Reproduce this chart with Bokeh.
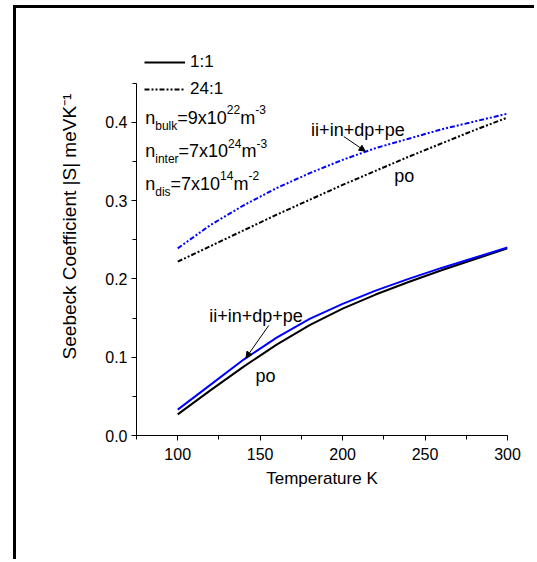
from bokeh.plotting import figure
from bokeh.models import (Label, Arrow, NormalHead, Legend, LegendItem,
                          SingleIntervalTicker, Range1d, PrintfTickFormatter)
from bokeh.embed import file_html
from bokeh.resources import INLINE

# ---- data ----
temperature = [100, 120, 140, 160, 180, 200, 220, 240, 260, 280, 300]
s_1to1_po = [0.027, 0.058, 0.088, 0.116, 0.141, 0.162, 0.180, 0.196, 0.211, 0.225, 0.239]
s_1to1_all = [0.033, 0.065, 0.097, 0.125, 0.149, 0.168, 0.185, 0.200, 0.214, 0.227, 0.240]
s_24to1_po = [0.222, 0.242, 0.262, 0.282, 0.301, 0.320, 0.338, 0.356, 0.373, 0.390, 0.406]
s_24to1_all = [0.239, 0.269, 0.294, 0.316, 0.335, 0.352, 0.367, 0.379, 0.391, 0.401, 0.411]

legend_labels = ["1:1", "24:1"]
FONT = "Liberation Sans"

# y range extends above the drawn axis so that the notes stay inside the frame;
# the axis itself is bounded to 0 .. 0.45
p = figure(width=521, height=554, x_range=Range1d(75, 300), y_range=Range1d(0, 0.5338),
           output_backend="svg", toolbar_location=None,
           min_border_left=120, min_border_right=30, min_border_top=9, min_border_bottom=127)
p.styles = {"margin-left": "13px", "margin-top": "5px",
            "border-left": "3px solid black", "border-top": "3px solid black"}

p.xgrid.visible = False
p.ygrid.visible = False
p.outline_line_color = None
p.background_fill_color = "white"
p.border_fill_color = "white"

p.xaxis.ticker = SingleIntervalTicker(interval=50, num_minor_ticks=2)
p.yaxis.ticker = SingleIntervalTicker(interval=0.1, num_minor_ticks=2)
p.yaxis.formatter = PrintfTickFormatter(format="%.1f")
p.yaxis.bounds = (0, 0.45)
for ax in (p.xaxis, p.yaxis):
    ax.axis_line_color = "black"
    ax.axis_line_width = 1
    ax.major_tick_in = 0
    ax.major_tick_out = 5
    ax.minor_tick_in = 0
    ax.minor_tick_out = 4
    ax.major_tick_line_color = "black"
    ax.minor_tick_line_color = "black"
    ax.major_label_text_font = FONT
    ax.major_label_text_font_size = "16px"
    ax.major_label_text_color = "black"
    ax.axis_label_text_font = FONT
    ax.axis_label_text_font_style = "normal"
    ax.axis_label_text_color = "black"
p.xaxis.major_label_standoff = 7
p.yaxis.major_label_standoff = 4
p.xaxis.axis_label = "Temperature K"
p.xaxis.axis_label_text_font_size = "17px"
p.xaxis.axis_label_standoff = 6
p.yaxis.axis_label = "Seebeck Coefficient |S| meVK\u207b\u00b9"
p.yaxis.axis_label_text_font_size = "19px"
p.yaxis.axis_label_standoff = 22

dash = "5 2 2 2 2 2"
r_po_11 = p.line(temperature, s_1to1_po, color="black", line_width=2)
r_all_11 = p.line(temperature, s_1to1_all, color="#0000ff", line_width=2)
r_po_24 = p.line(temperature, s_24to1_po, color="black", line_width=2, line_dash=dash)
r_all_24 = p.line(temperature, s_24to1_all, color="#0000ff", line_width=2, line_dash=dash)

legend = Legend(items=[LegendItem(label=legend_labels[0], renderers=[r_po_11]),
                       LegendItem(label=legend_labels[1], renderers=[r_po_24])],
                location=(8, 336), glyph_width=41, glyph_height=20, label_height=20,
                label_standoff=5, spacing=7, padding=0, margin=0,
                border_line_alpha=0, background_fill_alpha=0,
                label_text_font=FONT, label_text_font_size="17px", label_text_color="black")
p.add_layout(legend)

# concentration notes with sub/superscripts
W = {'n': 556, 'b': 556, 'u': 556, 'l': 222, 'k': 500, 'i': 222, 't': 278, 'e': 556,
     'r': 333, 'd': 556, 's': 500, '=': 584, '9': 556, '7': 556, 'x': 500, '1': 556,
     '0': 556, '2': 556, '4': 556, 'm': 833, '-': 333, '3': 556}

def rich(x, y, parts):
    off = 0.0
    for txt, size, dy in parts:
        p.add_layout(Label(x=x, y=y, x_offset=off, y_offset=dy, text=txt,
                           text_font=FONT, text_font_size=f"{size}px", text_color="black",
                           text_align="left", text_baseline="alphabetic"))
        off += sum(W.get(c, 556) for c in txt) / 1000 * size

notes = [
    ("bulk", "9", "22", "3", 0.4057),
    ("inter", "7", "24", "3", 0.3631),
    ("dis", "7", "14", "2", 0.3215),
]
for sub, mant, expo, unit_exp, yb in notes:
    rich(80.3, yb, [("n", 18, 0), (sub, 12, -8), (f"={mant}x10", 18, 0), (expo, 12, 8),
                    ("m", 18, 0), (f"-{unit_exp}", 12, 8)])

# curve annotations
for x, y, t in [(180.9, 0.3904, "ii+in+dp+pe"), (231.3, 0.332, "po"),
                (119.1, 0.1524, "ii+in+dp+pe"), (147.1, 0.0766, "po")]:
    p.add_layout(Label(x=x, y=y, text=t, text_font=FONT, text_font_size="18px",
                       text_color="black", text_baseline="alphabetic"))
for xs, ys, xe, ye in [(200.7, 0.3819, 213.7, 0.3631), (155.2, 0.1405, 141.4, 0.0992)]:
    p.add_layout(Arrow(end=NormalHead(size=6, fill_color="black", line_color="black"),
                       x_start=xs, y_start=ys, x_end=xe, y_end=ye,
                       line_color="black", line_width=1))

open("out.html", "w").write(file_html(p, INLINE))
